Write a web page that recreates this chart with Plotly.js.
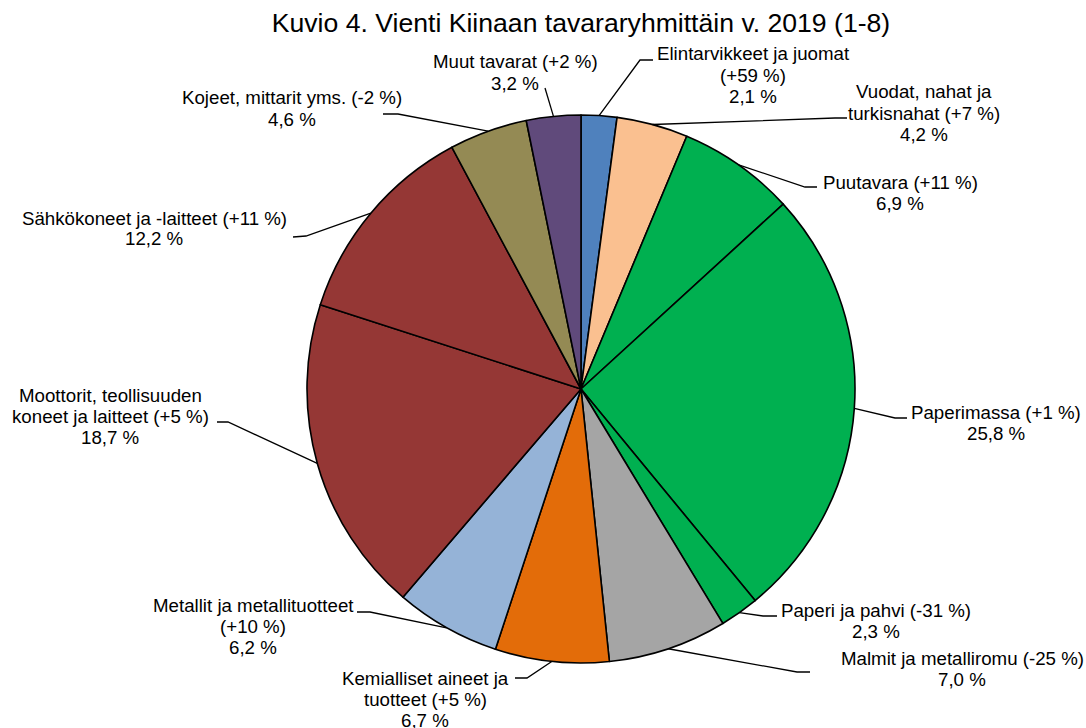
<!DOCTYPE html>
<html>
<head>
<meta charset="utf-8">
<script src="https://cdn.plot.ly/plotly-3.0.1.min.js"></script>
<style>html,body{margin:0;padding:0;background:#fff;}</style>
</head>
<body>
<div id="chart" style="width:1086px;height:728px;"></div>
<script>
// ---- data ----
const categories = [
  'Elintarvikkeet ja juomat', 'Vuodat, nahat ja turkisnahat', 'Puutavara', 'Paperimassa',
  'Paperi ja pahvi', 'Malmit ja metalliromu', 'Kemialliset aineet ja tuotteet',
  'Metallit ja metallituotteet', 'Moottorit, teollisuuden koneet ja laitteet',
  'Sähkökoneet ja -laitteet', 'Kojeet, mittarit yms.', 'Muut tavarat'
];
const shares = [2.1, 4.2, 6.9, 25.8, 2.3, 7.0, 6.7, 6.2, 18.7, 12.2, 4.6, 3.2];
const changes = ['+59 %', '+7 %', '+11 %', '+1 %', '-31 %', '-25 %', '+5 %', '+10 %', '+5 %', '+11 %', '-2 %', '+2 %'];
const labelTexts = [
  'Elintarvikkeet ja juomat<br>(+59 %)',
  'Vuodat, nahat ja<br>turkisnahat (+7 %)',
  'Puutavara (+11 %)',
  'Paperimassa (+1 %)',
  'Paperi ja pahvi (-31 %)',
  'Malmit ja metalliromu (-25 %)',
  'Kemialliset aineet ja<br>tuotteet (+5 %)',
  'Metallit ja metallituotteet<br>(+10 %)',
  'Moottorit, teollisuuden<br>koneet ja laitteet (+5 %)',
  'Sähkökoneet ja -laitteet (+11 %)',
  'Kojeet, mittarit yms. (-2 %)',
  'Muut tavarat (+2 %)'
];
const colors = ['#4F81BD', '#FAC090', '#00B050', '#00B050', '#00B050', '#A5A5A5',
                '#E36C09', '#95B3D7', '#953735', '#953735', '#948A54', '#604A7B'];

// ---- layout (pixel positions of labels and leader elbows) ----
const W = 1086, H = 728;
const M = {l: 307, r: 231, t: 115, b: 65};
const PW = W - M.l - M.r, PH = H - M.t - M.b;
const labelPos = [[753,54],[924,92],[900,182],[996,412],[876,610],[962,658],
                  [425,678],[253,605],[110,395],[154,218],[292,98],[515,62]];
const elbowPos = [[640,60],[835,118],[805,187],[895,418],[763,616],[797,672],
                  [527,678],[370,612],[228,422],[306,236],[398,114],[545,88]];
const endPos   = [[653,60],[847,118],[817,187],[907,418],[777,616],[810,672],
                  [515,678],[357,612],[217,422],[293,237],[383,114],[545,88]];
const LINE_H = 21;

const px2x = px => (px - M.l) / PW;
const py2y = py => (H - M.b - py) / PH;

const fmt = v => v.toFixed(1).replace('.', ',') + ' %';

const annotations = [];
const shapes = [];
const total = shares.reduce((a, b) => a + b, 0);
const cx = M.l + PW / 2, cy = M.t + PH / 2, R = Math.min(PW, PH) / 2;
let cum = 0;
shares.forEach((v, i) => {
  const lines = labelTexts[i].split('<br>').concat([fmt(v)]);
  lines.forEach((ln, k) => {
    annotations.push({
      xref: 'paper', yref: 'paper',
      x: px2x(labelPos[i][0]), y: py2y(labelPos[i][1] + k * LINE_H),
      xanchor: 'center', yanchor: 'middle',
      text: ln, showarrow: false, borderpad: 0,
      font: {family: 'Liberation Sans, Arial, sans-serif', size: 18.7, color: '#000'}
    });
  });
  const mid = (cum + v / 2) / total * 2 * Math.PI;
  cum += v;
  const sx = cx + R * Math.sin(mid), sy = cy - R * Math.cos(mid);
  const p = 'M ' + px2x(sx) + ' ' + py2y(sy) +
            ' L ' + px2x(elbowPos[i][0]) + ' ' + py2y(elbowPos[i][1]) +
            ' L ' + px2x(endPos[i][0]) + ' ' + py2y(endPos[i][1]);
  shapes.push({type: 'path', xref: 'paper', yref: 'paper', path: p,
               line: {color: '#000', width: 1.3}});
});

const trace = {
  type: 'pie',
  labels: categories,
  values: shares,
  sort: false,
  direction: 'clockwise',
  rotation: 0,
  textinfo: 'none',
  hovertemplate: '%{label}<br>%{value} %<extra></extra>',
  marker: {colors: colors, line: {color: '#000', width: 1.6}},
  domain: {x: [0, 1], y: [0, 1]},
  showlegend: false
};

const layout = {
  width: W, height: H,
  margin: M,
  paper_bgcolor: '#fff',
  plot_bgcolor: '#fff',
  showlegend: false,
  title: {
    text: 'Kuvio 4. Vienti Kiinaan tavararyhmittäin v. 2019 (1-8)',
    font: {family: 'Liberation Sans, Arial, sans-serif', size: 26.6, color: '#000'},
    xref: 'paper', x: 0.5, xanchor: 'center',
    yref: 'container', y: 1 - 23 / H, yanchor: 'middle'
  },
  annotations: annotations,
  shapes: shapes
};

Plotly.newPlot('chart', [trace], layout, {displayModeBar: false, staticPlot: false});
</script>
</body>
</html>
